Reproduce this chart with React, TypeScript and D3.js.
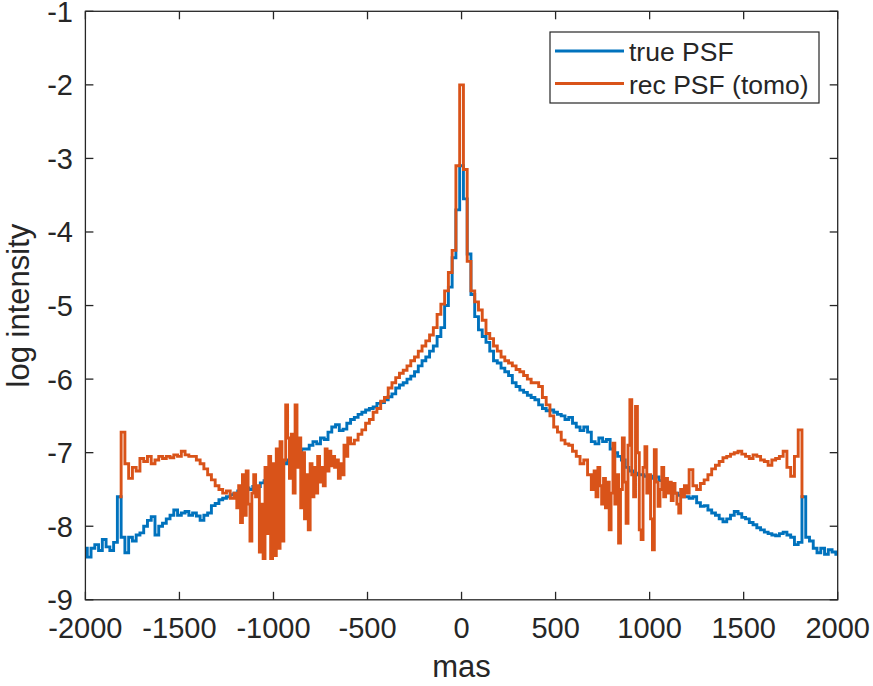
import React from "react";
import * as d3 from "d3";

// true PSF, log intensity, sampled every 20 mas from -2000 to 2000
const trueStart = -2000;
const trueStep = 20;
const trueLog: number[] = [
  -8.30, -8.42, -8.30, -8.25, -8.33, -8.18, -8.28, -8.33, -8.22, -7.60,
  -8.15, -8.36, -8.15, -8.20, -8.12, -8.09, -8.00, -7.92, -7.87, -8.12,
  -8.00, -7.96, -7.90, -7.85, -7.78, -7.85, -7.82, -7.80, -7.85, -7.82,
  -7.86, -7.92, -7.85, -7.82, -7.72, -7.69, -7.64, -7.62, -7.60, -7.57,
  -7.55, -7.52, -7.50, -7.48, -7.50, -7.46, -7.46, -7.41, -7.38, -7.32,
  -7.28, -7.22, -7.20, -7.15, -7.10, -7.05, -7.00, -6.98, -6.95, -6.95,
  -6.90, -6.85, -6.88, -6.80, -6.82, -6.72, -6.65, -6.62, -6.70, -6.68,
  -6.60, -6.55, -6.52, -6.48, -6.45, -6.42, -6.40, -6.38, -6.33, -6.32,
  -6.28, -6.24, -6.20, -6.12, -6.08, -6.05, -6.00, -5.96, -5.90, -5.82,
  -5.75, -5.70, -5.62, -5.55, -5.42, -5.30, -5.00, -4.75, -4.35, -3.70,
  -3.10, -3.55, -4.30, -4.85, -5.15, -5.33, -5.42, -5.50, -5.62, -5.75,
  -5.78, -5.85, -5.90, -5.95, -6.05, -6.10, -6.15, -6.18, -6.22, -6.25,
  -6.28, -6.35, -6.40, -6.43, -6.42, -6.45, -6.48, -6.50, -6.55, -6.52,
  -6.60, -6.65, -6.70, -6.65, -6.72, -6.85, -6.88, -6.80, -6.85, -6.82,
  -6.95, -7.00, -7.05, -7.10, -7.20, -7.25, -7.28, -7.30, -7.30, -7.32,
  -7.32, -7.35, -7.33, -7.38, -7.42, -7.45, -7.50, -7.55, -7.58, -7.60,
  -7.60, -7.62, -7.60, -7.68, -7.73, -7.72, -7.78, -7.82, -7.85, -7.90,
  -7.94, -7.90, -7.85, -7.80, -7.83, -7.88, -7.90, -7.95, -7.98, -8.02,
  -8.05, -8.08, -8.10, -8.12, -8.13, -8.10, -8.08, -8.12, -8.15, -8.25,
  -8.22, -7.60, -8.15, -8.20, -8.30, -8.36, -8.30, -8.38, -8.32, -8.35, -8.38,
];

// reconstructed PSF (tomo), in five pieces with their own sampling
// -1820 .. -1220, every 20 mas
const recLeftOuterStart = -1820;
const recLeftOuter: number[] = [
  -7.60, -6.72, -7.15, -7.35, -7.20, -7.25, -7.08, -7.12, -7.05, -7.15,
  -7.10, -7.05, -7.08, -7.05, -7.07, -7.03, -7.05, -6.98, -7.03, -7.05,
  -7.05, -7.10, -7.15, -7.22, -7.30, -7.37, -7.45, -7.50, -7.55, -7.52,
  -7.62,
];
// -1200 .. -600, every 10 mas
const recLeftNoiseStart = -1200;
const recLeftNoise: number[] = [
  -7.55, -7.75, -7.45, -7.95, -7.30, -7.85, -7.25, -7.70, -8.20, -7.55,
  -7.30, -7.60, -7.45, -8.35, -7.70, -8.44, -7.20, -8.10, -7.05, -8.44,
  -7.15, -8.40, -6.95, -8.30, -6.85, -8.20, -7.10, -6.35, -6.80, -7.35,
  -6.75, -7.55, -6.35, -7.20, -6.80, -7.75, -7.00, -7.90, -7.30, -8.05,
  -7.15, -7.60, -7.20, -7.55, -7.05, -7.40, -7.20, -7.45, -6.95, -7.25,
  -6.98, -7.18, -7.05, -7.20, -7.10, -7.35, -7.15, -7.30, -6.90, -7.05,
  -6.80,
];
// -580 .. 680, every 20 mas
const recCoreStart = -580;
const recCore: number[] = [
  -6.88, -6.83, -6.75, -6.69, -6.60, -6.55, -6.45, -6.40,
  -6.30, -6.25, -6.12, -6.05, -5.98, -5.92, -5.88, -5.82, -5.75, -5.70,
  -5.62, -5.55, -5.48, -5.40, -5.30, -5.12, -4.98, -4.80, -4.55, -4.25,
  -3.10,
  -2.00, -3.15, -4.40, -4.80, -4.95, -5.06, -5.20, -5.38, -5.45, -5.55,
  -5.62, -5.70, -5.75, -5.78, -5.82, -5.87, -5.90, -5.95, -6.00, -6.05,
  -6.05, -6.10, -6.25, -6.35, -6.50, -6.65, -6.72, -6.83, -6.88, -6.90,
  -6.98, -7.05, -7.15, -7.10, -7.30,
];
// 700 .. 1200, every 10 mas
const recRightNoiseStart = 700;
const recRightNoise: number[] = [
  -7.50, -7.25, -7.60, -7.20, -7.45, -7.70, -7.35, -7.75, -7.40, -8.05,
  -7.55, -6.87, -7.70, -7.30, -8.23, -7.50, -6.80, -7.40, -7.96, -6.90,
  -6.28, -7.30, -7.60, -6.37, -7.00, -8.05, -8.18, -7.20, -6.92, -7.55,
  -7.30, -7.90, -8.32, -6.96, -7.40, -7.73, -7.50, -7.20, -7.60, -7.35,
  -7.55, -7.40, -7.65, -7.42, -7.55, -7.70, -7.82, -7.50, -7.60, -7.45,
  -7.55,
];
// 1220 .. 1820, every 20 mas
const recRightOuterStart = 1220;
const recRightOuter: number[] = [
  -7.23, -7.45, -7.50, -7.42, -7.37, -7.30, -7.22, -7.17, -7.12,
  -7.07, -7.05, -7.02, -7.00, -6.98, -7.02, -7.05, -7.08, -7.03, -7.05,
  -7.10, -7.12, -7.17, -7.10, -7.08, -7.05, -6.98, -7.20, -7.32, -7.05,
  -6.69, -7.60,
];

const xTicks = [-2000, -1500, -1000, -500, 0, 500, 1000, 1500, 2000];
const yTicks = [-9, -8, -7, -6, -5, -4, -3, -2, -1];
const seriesNames = ["true PSF", "rec PSF (tomo)"];
const seriesColors = ["#0072BD", "#D95319"];

const W = 873;
const H = 686;
const L = 85.4, R = 837.7, T = 11.3, B = 599.8;
const FONT = "'Liberation Sans', Arial, Helvetica, sans-serif";
const AX = "#262626";

function piece(vals: number[], start: number, step: number): [number, number][] {
  return vals.map((v, i) => [start + i * step, v]);
}

export default function App() {
  const x = d3.scaleLinear().domain([-2000, 2000]).range([L, R]);
  const y = d3.scaleLinear().domain([-9, -1]).range([B, T]);
  const line = d3
    .line<[number, number]>()
    .x((d) => x(d[0]))
    .y((d) => y(d[1]))
    .curve(d3.curveStep);

  const trueData = piece(trueLog, trueStart, trueStep);
  const recData = [
    ...piece(recLeftOuter, recLeftOuterStart, 20),
    ...piece(recLeftNoise, recLeftNoiseStart, 10),
    ...piece(recCore, recCoreStart, 20),
    ...piece(recRightNoise, recRightNoiseStart, 10),
    ...piece(recRightOuter, recRightOuterStart, 20),
  ];
  const series = [trueData, recData];

  return (
    <div style={{ position: "absolute", left: 0, top: 0, width: W, height: H, background: "#fff" }}>
      <svg width={W} height={H} style={{ display: "block" }}>
        <rect x={0} y={0} width={W} height={H} fill="#fff" />
        <defs>
          <clipPath id="plotclip">
            <rect x={L} y={T} width={R - L} height={B - T} />
          </clipPath>
        </defs>
        <g clipPath="url(#plotclip)">
          {series.map((s, i) => (
            <path
              key={i}
              d={line(s) || ""}
              fill="none"
              stroke={seriesColors[i]}
              strokeWidth={2.9}
              strokeLinejoin="miter"
            />
          ))}
        </g>
        <rect x={L} y={T} width={R - L} height={B - T} fill="none" stroke={AX} strokeWidth={1.3} />
        {xTicks.map((t) => (
          <g key={"x" + t}>
            <line x1={x(t)} x2={x(t)} y1={B} y2={B - 8} stroke={AX} strokeWidth={1.3} />
            <line x1={x(t)} x2={x(t)} y1={T} y2={T + 8} stroke={AX} strokeWidth={1.3} />
            <text x={x(t)} y={638} textAnchor="middle" fontFamily={FONT} fontSize={29} fill={AX}>
              {t}
            </text>
          </g>
        ))}
        {yTicks.map((t) => (
          <g key={"y" + t}>
            <line x1={L} x2={L + 8} y1={y(t)} y2={y(t)} stroke={AX} strokeWidth={1.3} />
            <line x1={R} x2={R - 8} y1={y(t)} y2={y(t)} stroke={AX} strokeWidth={1.3} />
            <text x={73} y={y(t) + 10.5} textAnchor="end" fontFamily={FONT} fontSize={29} fill={AX}>
              {t}
            </text>
          </g>
        ))}
        <text x={(L + R) / 2} y={677} textAnchor="middle" fontFamily={FONT} fontSize={31} fill={AX}>
          mas
        </text>
        <text
          transform={`translate(29, ${(T + B) / 2}) rotate(-90)`}
          textAnchor="middle"
          fontFamily={FONT}
          fontSize={31}
          fill={AX}
        >
          log intensity
        </text>
        <rect x={550} y={32} width={269} height={71} fill="#fff" stroke={AX} strokeWidth={1.2} />
        {seriesNames.map((n, i) => (
          <g key={n}>
            <line x1={555} x2={624} y1={51 + i * 32.5} y2={51 + i * 32.5} stroke={seriesColors[i]} strokeWidth={3.2} />
            <text x={629} y={61 + i * 32.5} fontFamily={FONT} fontSize={26.5} fill={AX}>
              {n}
            </text>
          </g>
        ))}
      </svg>
    </div>
  );
}
